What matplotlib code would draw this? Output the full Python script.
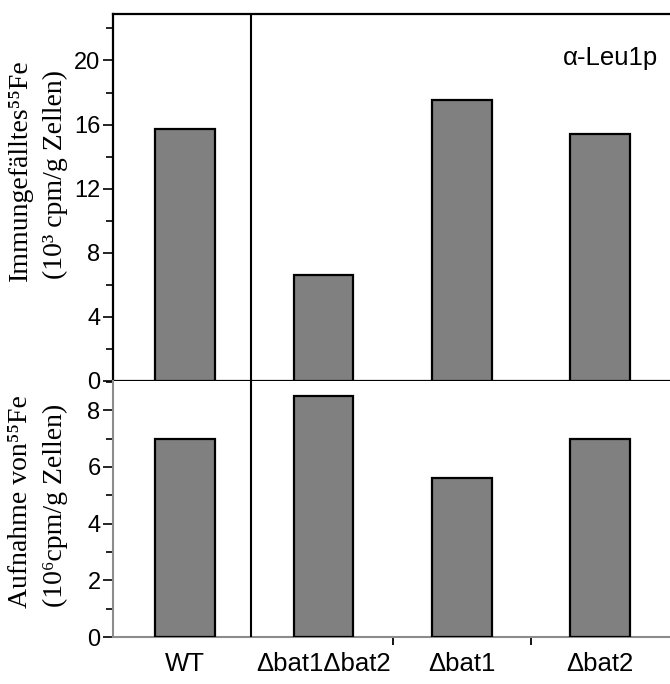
"""Immunoprecipitated and total 55Fe uptake for WT and bat deletion strains."""

import matplotlib
matplotlib.use("Agg")
import matplotlib.pyplot as plt
from matplotlib.ticker import MultipleLocator

strains = ["WT", "\u0394bat1\u0394bat2", "\u0394bat1", "\u0394bat2"]
immuno_fe = [15.7, 6.6, 17.55, 15.4]     # 10^3 cpm/g cells
uptake_fe = [7.0, 8.5, 5.6, 7.0]         # 10^6 cpm/g cells

SANS = ["Liberation Sans", "DejaVu Sans"]
SERIF = ["Liberation Serif", "DejaVu Serif"]
BAR = "#808080"
GREY = "#8c8c8c"

fig = plt.figure(figsize=(6.70, 6.84), dpi=100)
ax_top = fig.add_axes([0.1687, 0.4430, 0.851, 0.5365])
ax_bot = fig.add_axes([0.1687, 0.0687, 0.851, 0.3743])

x = list(range(len(strains)))
xlim = (-0.52, 3.6)

for ax, vals in ((ax_top, immuno_fe), (ax_bot, uptake_fe)):
    ax.bar(x, vals, width=0.43, color=BAR, edgecolor="black", linewidth=1.6, zorder=3)
    ax.set_xlim(*xlim)
    ax.axvline(0.48, color="black", linewidth=1.5, zorder=4)
    ax.set_xticks([1.5, 2.5])
    ax.set_xticklabels([])
    ax.tick_params(axis="x", direction="out", length=6, width=1.3, color="black")
    ax.tick_params(axis="y", which="major", direction="out", length=7, width=1.2,
                   labelsize=17, pad=2)
    ax.tick_params(axis="y", which="minor", direction="out", length=5, width=1.2)
    ax.spines["right"].set_visible(False)
    for lbl in ax.get_yticklabels():
        lbl.set_family(SANS)

# upper panel: boxed frame
ax_top.set_ylim(0, 22.9)
ax_top.yaxis.set_major_locator(MultipleLocator(4))
ax_top.yaxis.set_minor_locator(MultipleLocator(2))
for side in ("left", "top", "bottom"):
    ax_top.spines[side].set_linewidth(1.6)
    ax_top.spines[side].set_color("black")
ax_top.text(0.983, 0.915, "\u03b1-Leu1p", transform=fig.transFigure,
            ha="right", va="center", fontsize=18.5, family=SANS)

# lower panel: grey axes lines
ax_bot.set_ylim(0, 9.03)
ax_bot.yaxis.set_major_locator(MultipleLocator(2))
ax_bot.yaxis.set_minor_locator(MultipleLocator(1))
ax_bot.spines["top"].set_visible(False)
for side in ("left", "bottom"):
    ax_bot.spines[side].set_color(GREY)
    ax_bot.spines[side].set_linewidth(1.5)

for xi, name in zip(x, strains):
    ax_bot.text(xi, -0.105, name, transform=ax_bot.get_xaxis_transform(),
                ha="center", va="center", fontsize=18.5, family=SANS)

# two-line y-axis titles
ylabels = [
    (0.751, "Immungef\u00e4lltes\u2075\u2075Fe", "(10\u00b3 cpm/g Zellen)"),
    (0.267, "Aufnahme von\u2075\u2075Fe", "(10\u2076cpm/g Zellen)"),
]
for yc, line1, line2 in ylabels:
    fig.text(0.031, yc, line1, rotation=90, ha="center", va="center",
             fontsize=20, family=SERIF)
    fig.text(0.083, yc - 0.006, line2, rotation=90, ha="center", va="center",
             fontsize=20, family=SERIF)

fig.savefig("out.png", dpi=100)
